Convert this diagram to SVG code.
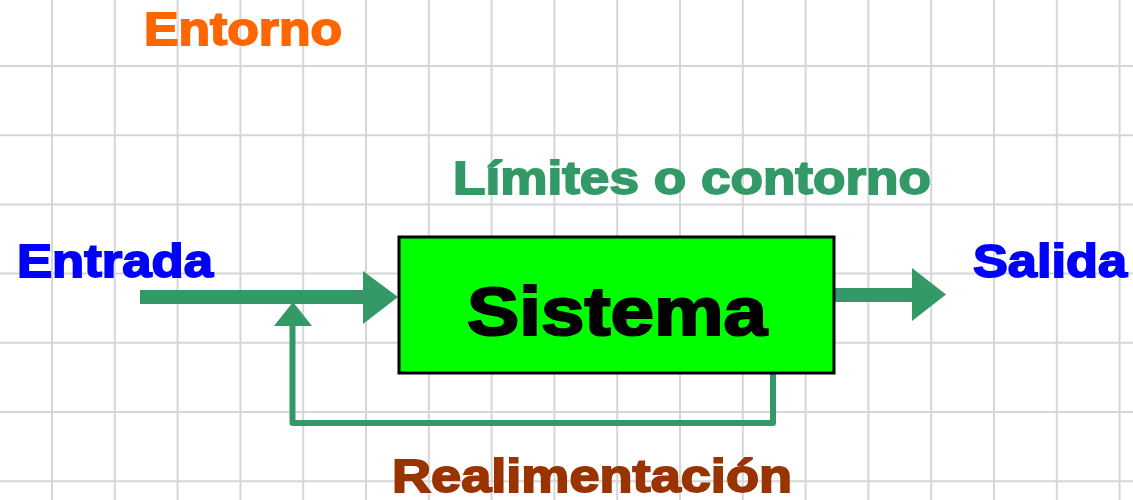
<svg xmlns="http://www.w3.org/2000/svg" width="1133" height="500" viewBox="0 0 1133 500">
<style>
.grid line{stroke:#d6d6d6;stroke-width:2}
.lbl{font-family:"Liberation Sans",Arial,sans-serif;font-weight:bold;font-size:47px;stroke-width:1.8;paint-order:stroke}
.conn{fill:#339966;stroke:none}
.fb{fill:none;stroke:#339966;stroke-width:6;stroke-linejoin:round}
</style>
<rect width="1133" height="500" fill="#ffffff"/>
<g class="grid">
<line x1="52" y1="0" x2="52" y2="500"/><line x1="114.8" y1="0" x2="114.8" y2="500"/><line x1="177.6" y1="0" x2="177.6" y2="500"/><line x1="240.4" y1="0" x2="240.4" y2="500"/><line x1="303.2" y1="0" x2="303.2" y2="500"/><line x1="366" y1="0" x2="366" y2="500"/><line x1="428.8" y1="0" x2="428.8" y2="500"/><line x1="491.6" y1="0" x2="491.6" y2="500"/><line x1="554.4" y1="0" x2="554.4" y2="500"/><line x1="617.2" y1="0" x2="617.2" y2="500"/><line x1="680" y1="0" x2="680" y2="500"/><line x1="742.8" y1="0" x2="742.8" y2="500"/><line x1="805.6" y1="0" x2="805.6" y2="500"/><line x1="868.4" y1="0" x2="868.4" y2="500"/><line x1="931.2" y1="0" x2="931.2" y2="500"/><line x1="994" y1="0" x2="994" y2="500"/><line x1="1056.8" y1="0" x2="1056.8" y2="500"/><line x1="1119.6" y1="0" x2="1119.6" y2="500"/>
<line x1="0" y1="66" x2="1133" y2="66"/><line x1="0" y1="135.2" x2="1133" y2="135.2"/><line x1="0" y1="204.4" x2="1133" y2="204.4"/><line x1="0" y1="273.6" x2="1133" y2="273.6"/><line x1="0" y1="342.8" x2="1133" y2="342.8"/><line x1="0" y1="412" x2="1133" y2="412"/><line x1="0" y1="481.2" x2="1133" y2="481.2"/>
</g>
<g id="connectors">
<rect class="conn" x="140" y="290" width="225" height="14"/>
<polygon class="conn" points="363,271 398,297 363,324"/>
<rect class="conn" x="834" y="288" width="80" height="14"/>
<polygon class="conn" points="912,268 946,294.5 912,321"/>
<polyline class="fb" points="773,374 773,423 292.5,423 292.5,322"/>
<polygon class="conn" points="274,326 293,302 312,326"/>
</g>
<g id="sistema">
<rect x="399" y="237" width="435" height="136" fill="#00ff00" stroke="#000" stroke-width="3"/>
<text class="lbl" x="467" y="335" style="font-size:68px;stroke-width:2.2" fill="#000" stroke="#000" textLength="300" lengthAdjust="spacingAndGlyphs">Sistema</text>
</g>
<g id="entorno"><text class="lbl" x="144" y="45" fill="#ff6600" stroke="#ff6600" textLength="198" lengthAdjust="spacingAndGlyphs">Entorno</text></g>
<g id="limites"><text class="lbl" x="453" y="194" fill="#339966" stroke="#339966" textLength="478" lengthAdjust="spacingAndGlyphs">Límites o contorno</text></g>
<g id="entrada"><text class="lbl" x="17" y="277" fill="#0000ff" stroke="#0000ff" textLength="196" lengthAdjust="spacingAndGlyphs">Entrada</text></g>
<g id="salida"><text class="lbl" x="973" y="277" fill="#0000ff" stroke="#0000ff" textLength="154" lengthAdjust="spacingAndGlyphs">Salida</text></g>
<g id="realimentacion"><text class="lbl" x="392" y="492" fill="#993300" stroke="#993300" textLength="400" lengthAdjust="spacingAndGlyphs">Realimentación</text></g>
</svg>
